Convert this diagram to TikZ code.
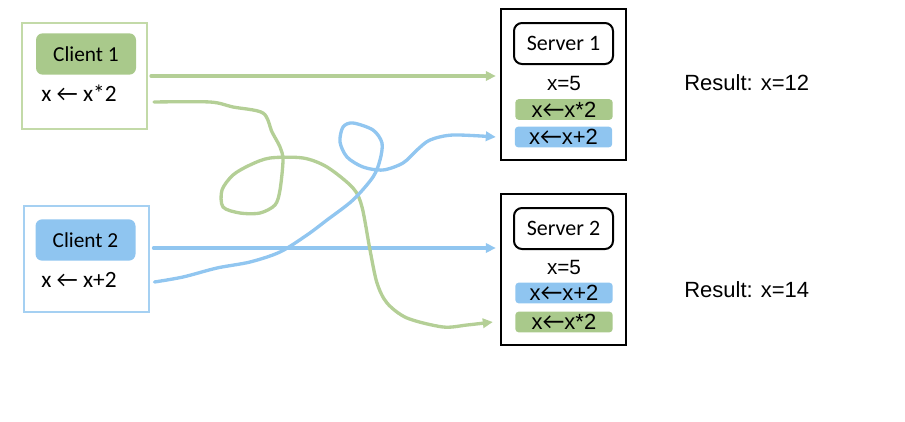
\documentclass[tikz,border=0pt]{standalone}
\usepackage{fontspec}
\setmainfont{Liberation Sans}
\newfontfamily\calfont{Carlito}
\usetikzlibrary{arrows.meta,positioning,calc}
\definecolor{taggreen}{RGB}{169,201,139}
\definecolor{wiregreen}{RGB}{180,207,150}
\definecolor{rimgreen}{RGB}{195,218,168}
\definecolor{tagblue}{RGB}{143,197,240}
\definecolor{wireblue}{RGB}{145,198,240}
\definecolor{rimblue}{RGB}{165,208,242}
\newcommand*\getsarrow{{\calfont\fontsize{18}{19}\selectfont ←}}

\begin{document}
\begin{tikzpicture}[x=0.75pt,y=-0.75pt,>={Triangle[length=7.5pt,width=7pt]},
	clientbox/.style={draw,line width=1.5pt,minimum width=93.75pt,minimum height=79.5pt,inner sep=0pt},
	clienttag/.style={rounded corners=5pt,inner sep=0pt,minimum width=75pt,minimum height=31pt,font=\calfont\fontsize{16}{18}\selectfont},
	optext/.style={inner sep=0pt,anchor=west,font=\calfont\fontsize{17.5}{19}\selectfont},
	serverbox/.style={draw=black,line width=1.8pt,minimum width=93.75pt,minimum height=113.25pt,inner sep=0pt},
	servertag/.style={draw=black,line width=1.5pt,rounded corners=6pt,minimum width=74.25pt,minimum height=30.75pt,inner sep=0pt,font=\calfont\fontsize{16.5}{19}\selectfont},
	valtext/.style={inner sep=0pt,font=\fontsize{15.5}{18}\selectfont},
	opbar/.style={rounded corners=2.5pt,minimum width=73pt,minimum height=15.5pt,inner sep=0pt,font=\fontsize{16.5}{18}\selectfont},
	restext/.style={inner sep=0pt,anchor=west,font=\fontsize{16.5}{19}\selectfont},
	flow/.style={->,line width=2.5pt,line cap=round}]
	\useasboundingbox (0,0) rectangle (905,421);
	% clients
	\node (c1box) [clientbox,draw=rimgreen] at (84.5,76) {};
	\node (c1tag) [clienttag,fill=taggreen] at (86,54) {Client 1};
	\node (c1op) [optext] at (41,93) {x ← x*2};
	\node (c2box) [clientbox,draw=rimblue] at (86,259) {};
	\node (c2tag) [clienttag,fill=tagblue] at (85.5,240) {Client 2};
	\node (c2op) [optext] at (41,280) {x ← x+2};
	% servers
	\node (s1box) [serverbox] at (563.5,84.5) {};
	\node (s1tag) [servertag] at (563.5,43.5) {Server 1};
	\node (s1val) [valtext] at (564,83) {x=5};
	\node (s1gbar) [opbar,fill=taggreen] at (564,109.5) {x\getsarrow x*2};
	\node (s1bbar) [opbar,fill=tagblue] at (563.5,137) {x\getsarrow x+2};
	\node (s2box) [serverbox] at (563.5,269.5) {};
	\node (s2tag) [servertag] at (563.5,228.5) {Server 2};
	\node (s2val) [valtext] at (564,267) {x=5};
	\node (s2bbar) [opbar,fill=tagblue] at (564,293) {x\getsarrow x+2};
	\node (s2gbar) [opbar,fill=taggreen] at (564,322) {x\getsarrow x*2};
	\node (res1) [restext] at (684,83) {Result: x=12};
	\node (res2) [restext] at (684,290) {Result: x=14};

	\coordinate (g1start) at ($(c1box.east)+(6,26)$);
	\coordinate (g1end) at ($(s2box.west |- s2gbar)+(-7,0)$);
	\coordinate (b1start) at ($(c2box.east)+(5,23)$);
	\coordinate (b1end) at ($(s1box.west |- s1bbar)+(-4,0)$);
	\coordinate (b2start) at ($(c2box.east)+(0,-11)$);

	\draw[flow,wiregreen,shorten <=2.25pt,shorten >=3pt] (c1box.east) -- (c1box.east -| s1box.west);
	\draw[flow,wireblue,shorten <=3pt,shorten >=3pt] (b2start) -- (b2start -| s2box.west);
	\draw[flow,wiregreen] plot[smooth,tension=0.5] coordinates {(g1start) (210,102) (233,107) (263,113)
		(272,132) (280,147) (283,160) (280,190) (275,205) (260,213) (240,213) (223,207) (222,190)
		(233,175) (250,165) (270,158) (303,158) (327,167) (353,188) (362,207) (370,250) (377,283)
		(387,303) (407,318) (443,327) (467,325) (g1end)};
	\draw[flow,wireblue] plot[smooth,tension=0.5] coordinates {(b1start) (183,277) (217,268) (250,262)
		(280,252) (307,235) (327,220) (353,200) (373,177) (380,160) (382,143) (373,130) (353,123)
		(343,127) (340,142) (347,157) (363,167) (383,170) (403,163) (417,150) (430,140) (453,135)
		(b1end)};
\end{tikzpicture}
\end{document}
